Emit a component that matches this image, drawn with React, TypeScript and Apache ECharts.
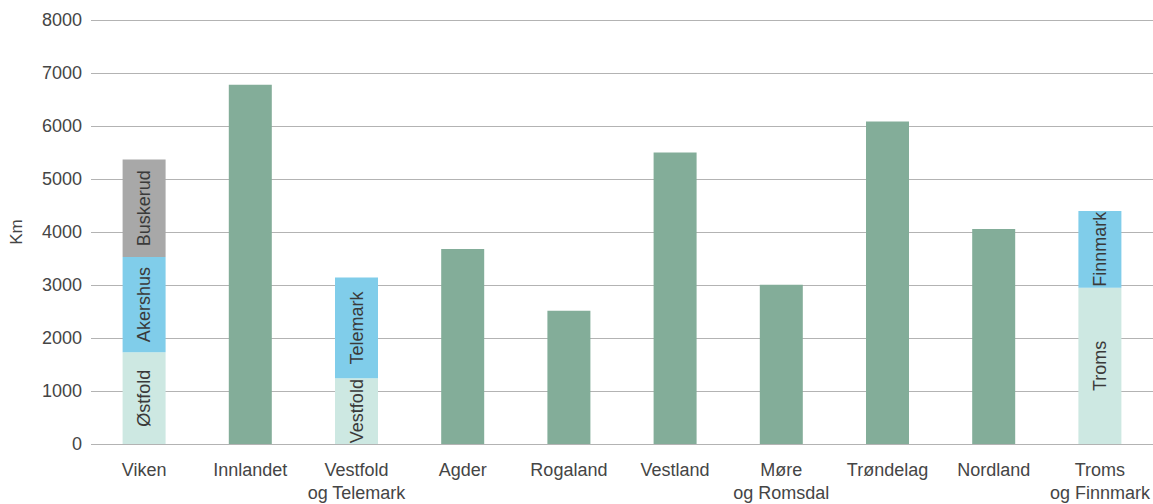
import React, { useEffect, useRef } from "react";
import * as echarts from "echarts";

// Regions (two-line labels use "\n")
const categories = [
  "Viken",
  "Innlandet",
  "Vestfold\nog Telemark",
  "Agder",
  "Rogaland",
  "Vestland",
  "Møre\nog Romsdal",
  "Trøndelag",
  "Nordland",
  "Troms\nog Finnmark",
];

// Whole-region totals (km) for regions without sub-counties
const regionKm = [null, 6780, null, 3680, 2515, 5500, 3005, 6085, 4055, null];

// Stacked parts for merged regions (km)
const lowerKm = [1730, null, 1240, null, null, null, null, null, null, 2950];
const middleKm = [1800, null, 1900, null, null, null, null, null, null, 1445];
const upperKm = [1840, null, null, null, null, null, null, null, null, null];

// Names of the former counties drawn inside the stacked parts
const lowerNames = ["Østfold", "", "Vestfold", "", "", "", "", "", "", "Troms"];
const middleNames = ["Akershus", "", "Telemark", "", "", "", "", "", "", "Finnmark"];
const upperNames = ["Buskerud", "", "", "", "", "", "", "", "", ""];

const yTicks = { min: 0, max: 8000, interval: 1000 };

const FONT = "'Liberation Sans', Arial, sans-serif";
const TEXT = "#454545";

function partSeries(name: string, values: (number | null)[], names: string[], color: string) {
  return {
    name,
    type: "bar",
    stack: "km",
    barWidth: 43,
    itemStyle: { color },
    label: {
      show: true,
      position: "inside",
      rotate: 90,
      fontFamily: FONT,
      fontSize: 18,
      color: "#3a3a3a",
      formatter: (p: any) => names[p.dataIndex] || "",
    },
    data: values,
  };
}

export default function App() {
  const ref = useRef<HTMLDivElement>(null);

  useEffect(() => {
    document.body.style.margin = "0";
    if (!ref.current) return;
    const chart = echarts.init(ref.current, undefined, { renderer: "svg" });
    chart.setOption({
      animation: false,
      backgroundColor: "#ffffff",
      grid: { left: 88, right: -1, top: 20, bottom: 58, containLabel: false },
      xAxis: {
        type: "category",
        data: categories,
        axisLine: { show: false },
        axisTick: { show: false },
        axisLabel: {
          fontFamily: FONT,
          fontSize: 18,
          color: TEXT,
          margin: 14,
          lineHeight: 23,
          interval: 0,
        },
      },
      yAxis: {
        type: "value",
        min: yTicks.min,
        max: yTicks.max,
        interval: yTicks.interval,
        name: "Km",
        nameLocation: "middle",
        nameGap: 66,
        nameRotate: 90,
        nameTextStyle: { fontFamily: FONT, fontSize: 17, color: TEXT },
        axisLine: { show: false },
        axisTick: { show: false },
        axisLabel: {
          fontFamily: FONT,
          fontSize: 18,
          color: TEXT,
          margin: 9,
          formatter: (v: number) => String(v),
        },
        splitLine: { lineStyle: { color: "#b3b3b3", width: 1.2 } },
      },
      series: [
        {
          name: "Region",
          type: "bar",
          stack: "km",
          barWidth: 43,
          itemStyle: { color: "#83ad99" },
          data: regionKm,
        },
        partSeries("Nedre", lowerKm, lowerNames, "#cde8e2"),
        partSeries("Midtre", middleKm, middleNames, "#80cdea"),
        partSeries("Øvre", upperKm, upperNames, "#a8a8a8"),
      ],
    });
    return () => chart.dispose();
  }, []);

  return <div ref={ref} style={{ width: 1153, height: 504 }} />;
}
